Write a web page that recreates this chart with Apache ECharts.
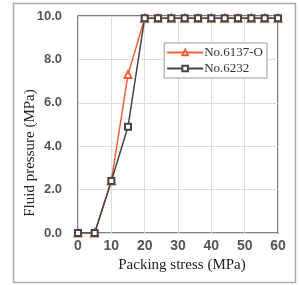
<!DOCTYPE html>
<html>
<head>
<meta charset="utf-8">
<script src="https://cdn.jsdelivr.net/npm/echarts@6/dist/echarts.min.js"></script>
<style>
html, body { margin: 0; padding: 0; background: #fff; }
#main { width: 299px; height: 285px; }
</style>
</head>
<body>
<div id="main"></div>
<script>
var xTicks = [0, 10, 20, 30, 40, 50, 60];
var yTicks = [0, 2, 4, 6, 8, 10];
var stressA = [0, 5, 10, 15, 20, 24, 28, 32, 36, 40, 44, 48, 52, 56, 60];
var pressA = [0, 0, 2.4, 7.3, 9.9, 9.9, 9.9, 9.9, 9.9, 9.9, 9.9, 9.9, 9.9, 9.9, 9.9];
var stressB = [0, 5, 10, 15, 20, 24, 28, 32, 36, 40, 44, 48, 52, 56, 60];
var pressB = [0, 0, 2.4, 4.9, 9.9, 9.9, 9.9, 9.9, 9.9, 9.9, 9.9, 9.9, 9.9, 9.9, 9.9];

function pairs(xs, ys) {
    return xs.map(function (x, i) { return [x, ys[i]]; });
}

var myChart = echarts.init(document.getElementById('main'));
var option = {
    animation: false,
    grid: {
        left: 78, right: 21, top: 16, bottom: 52,
        show: true, borderColor: '#555', borderWidth: 1.5
    },
    legend: {
        right: 32, top: 43,
        orient: 'vertical',
        itemGap: 3,
        itemWidth: 36,
        itemHeight: 7,
        padding: [3, 4, 3, 2],
        borderColor: '#999',
        borderWidth: 1,
        backgroundColor: '#fff',
        textStyle: { fontFamily: 'Liberation Serif', fontSize: 13, color: '#333', padding: [0, 0, 0, -4] },
        data: ['No.6137-O', 'No.6232']
    },
    xAxis: {
        type: 'value', min: 0, max: 60, interval: 10,
        axisLine: { show: false },
        axisTick: { show: false },
        splitLine: { lineStyle: { color: '#ddd' } },
        axisLabel: { color: '#555', fontFamily: 'Liberation Sans', fontWeight: 'bold', fontSize: 14, margin: 6 },
        name: 'Packing stress (MPa)',
        nameLocation: 'middle',
        nameGap: 25,
        nameTextStyle: { fontFamily: 'Liberation Serif', fontSize: 15, color: '#222', padding: [0, 0, 0, 8] }
    },
    yAxis: {
        type: 'value', min: 0, max: 10, interval: 2,
        axisLine: { show: false },
        axisTick: { show: false },
        splitLine: { lineStyle: { color: '#ddd' } },
        axisLabel: {
            color: '#555', fontFamily: 'Liberation Sans', fontWeight: 'bold', fontSize: 13, margin: 16,
            formatter: function (v) { return v.toFixed(1); }
        }
    },
    graphic: [
        {
            type: 'rect', silent: true, z: -1,
            shape: { x: 13.5, y: 3.5, width: 282, height: 279 },
            style: { fill: 'none', stroke: '#aaa', lineWidth: 1.5 }
        },
        {
            type: 'text', silent: true,
            x: 30, y: 153, rotation: Math.PI / 2,
            style: {
                text: 'Fluid pressure (MPa)', fontFamily: 'Liberation Serif', fontSize: 15,
                fill: '#222', align: 'center', verticalAlign: 'middle'
            }
        }
    ],
    series: [
        {
            name: 'No.6137-O', type: 'line',
            data: pairs(stressA, pressA),
            symbol: 'emptyTriangle', symbolSize: 7,
            itemStyle: { color: '#f0603a' },
            lineStyle: { color: '#f0603a', width: 1.5 }
        },
        {
            name: 'No.6232', type: 'line',
            data: pairs(stressB, pressB),
            symbol: 'emptyRect', symbolSize: 6,
            itemStyle: { color: '#444', borderWidth: 1.5 },
            lineStyle: { color: '#444', width: 1.5 }
        }
    ]
};
myChart.setOption(option);
</script>
</body>
</html>
